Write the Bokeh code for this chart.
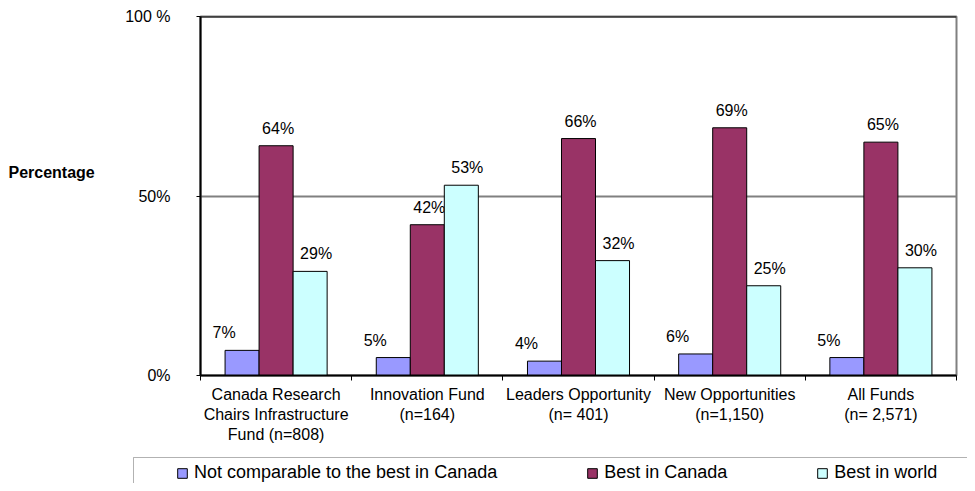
from bokeh.plotting import figure
from bokeh.layouts import row, column
from bokeh.models import FixedTicker, Range1d, Span, Legend, LegendItem, BoxAnnotation
from bokeh.core.properties import value
from bokeh.embed import file_html
from bokeh.resources import INLINE

# ---- data ----
categories = [
    "Canada Research\nChairs Infrastructure\nFund (n=808)",
    "Innovation Fund\n(n=164)",
    "Leaders Opportunity\n(n= 401)",
    "New Opportunities\n(n=1,150)",
    "All Funds\n(n= 2,571)",
]
not_comparable = [7, 5, 4, 6, 5]
best_in_canada = [64, 42, 66, 69, 65]
best_in_world = [29, 53, 32, 25, 30]
series_names = ["Not comparable to the best in Canada", "Best in Canada", "Best in world"]
y_ticks = [0, 50, 100]
y_tick_labels = ["0%", "50%", "100 %"]
y_title = "Percentage"

series = [not_comparable, best_in_canada, best_in_world]
colors = ["#9999FF", "#993366", "#CCFFFF"]
label_dx = [-18, 2, 6]
FONT = "Liberation Sans"

# ---- main chart ----
p = figure(width=857, height=450, x_range=Range1d(0, 10), y_range=Range1d(0, 100),
           output_backend="svg", toolbar_location=None,
           min_border_left=90, min_border_right=11, min_border_top=16, min_border_bottom=75)
p.background_fill_color = "white"
p.border_fill_color = "white"
p.outline_line_color = "#808080"
p.outline_line_width = 2

p.xgrid.visible = False
p.ygrid.ticker = FixedTicker(ticks=[50])
p.ygrid.grid_line_color = "#808080"
p.ygrid.grid_line_width = 2

p.yaxis.ticker = FixedTicker(ticks=y_ticks)
p.yaxis.major_label_overrides = {t: l for t, l in zip(y_ticks, y_tick_labels)}
p.yaxis.minor_tick_line_color = None
p.yaxis.major_tick_in = 0
p.yaxis.major_tick_out = 4
p.yaxis.major_tick_line_color = "black"
p.yaxis.axis_line_color = "black"
p.yaxis.axis_line_width = 2
p.yaxis.major_label_standoff = 26
p.yaxis.major_label_text_font = FONT
p.yaxis.major_label_text_font_size = "16px"
p.yaxis.major_label_text_color = "black"

centers = [2 * i + 1 for i in range(len(categories))]
p.xaxis.ticker = FixedTicker(ticks=centers, minor_ticks=list(range(0, 2 * len(categories) + 1, 2)))
p.xaxis.major_label_overrides = {c: lab for c, lab in zip(centers, categories)}
p.xaxis.major_tick_in = 0
p.xaxis.major_tick_out = 0
p.xaxis.minor_tick_in = 0
p.xaxis.minor_tick_out = 5
p.xaxis.minor_tick_line_color = "black"
p.xaxis.axis_line_color = "black"
p.xaxis.axis_line_width = 2
p.xaxis.major_label_standoff = 5
p.xaxis.major_label_text_font = FONT
p.xaxis.major_label_text_font_size = "16px"
p.xaxis.major_label_text_color = "black"
p.xaxis.major_label_text_line_height = 1.2

p.add_layout(Span(location=100, dimension="width", line_color="black", line_width=2))

bar_w = 0.45
for j, (vals, col) in enumerate(zip(series, colors)):
    xs = [c + (j - 1) * bar_w for c in centers]
    p.vbar(x=xs, top=vals, width=bar_w, fill_color=col, line_color="black", line_width=1)
    p.text(x=xs, y=vals, text=[f"{v}%" for v in vals], text_align="center", text_baseline="bottom",
           x_offset=label_dx[j], y_offset=-9, text_font=value(FONT), text_font_size="16px",
           text_color="black")

# ---- y title panel (left) ----
t = figure(width=110, height=450, x_range=Range1d(0, 110), y_range=Range1d(450, 0),
           output_backend="svg", toolbar_location=None, min_border=0,
           x_axis_location=None, y_axis_location=None)
t.grid.visible = False
t.outline_line_color = None
t.text(x=[8], y=[196], text=[y_title], text_align="left", text_baseline="middle",
       text_font=value(FONT), text_font_size="16px", text_font_style="bold", text_color="black")

# ---- legend strip (bottom) ----
lg = figure(width=967, height=33, x_range=Range1d(0, 967), y_range=Range1d(33, 0),
            output_backend="svg", toolbar_location=None, min_border=0,
            x_axis_location=None, y_axis_location=None)
lg.grid.visible = False
lg.outline_line_color = None
lg.add_layout(BoxAnnotation(left=133, right=1000, top=7, bottom=60, fill_color=None,
                            line_color="black", line_width=1))
items = []
for col, name in zip(colors, series_names):
    # swatch source for the legend; its single bar lies outside the visible strip
    r = lg.vbar(x=[5000], top=[1], width=1, fill_color=col, line_color="black", line_width=1)
    items.append(LegendItem(label=name, renderers=[r]))
legend = Legend(items=items, orientation="horizontal", location=(176, 0),
                glyph_width=12, glyph_height=12, label_standoff=6, spacing=89, padding=0,
                label_text_font=FONT, label_text_font_size="18px", label_text_color="black",
                label_height=20, border_line_color=None, background_fill_alpha=0)
lg.add_layout(legend, "center")

layout = column(row(t, p), lg)
open("out.html", "w").write(file_html(layout, INLINE))
